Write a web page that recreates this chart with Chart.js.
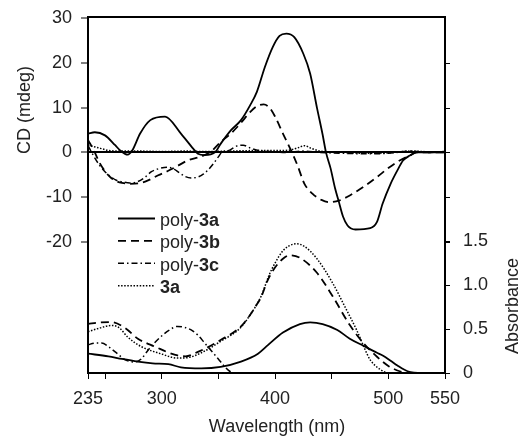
<!DOCTYPE html>
<html>
<head>
<meta charset="utf-8">
<script src="https://cdn.jsdelivr.net/npm/chart.js@4.4.1/dist/chart.umd.min.js"></script>
<style>
  html, body { margin: 0; padding: 0; background: #fff; }
  canvas { display: block; }
</style>
</head>
<body>
<canvas id="cdChart" width="521" height="436"></canvas>
<script>
// CD spectra (mdeg)
const cdPoly3aNm = [235, 241, 250, 259, 264, 270, 274, 281, 290, 303, 317, 328, 332, 338, 347, 352, 361, 370, 378, 384, 391, 398, 404, 410, 417, 425, 431, 437, 442, 445, 449, 453, 456, 460, 464, 471, 484, 490, 495, 502, 508, 513, 519, 525, 550];
const cdPoly3a = [4.2, 4.5, 3.8, 1.6, 0.3, -0.5, 0.4, 4.2, 7.2, 8.0, 4.2, 0.8, -0.3, -0.6, 0, 1.9, 4.9, 7.2, 10.5, 13.5, 19.0, 23.5, 26.0, 26.5, 25.7, 22.0, 17.6, 10.0, 4.0, 0, -3.5, -8.0, -10.7, -14.3, -16.3, -17.2, -16.9, -15.5, -11.4, -7.0, -4.0, -1.8, -0.7, 0, 0];

const cdPoly3bNm = [235, 240, 245, 250, 255, 260, 265, 272, 280, 288, 297, 305, 312, 323, 335, 344, 352, 361, 370, 378, 384, 390, 395, 400, 407, 415, 420, 426, 433, 441, 448, 457, 466, 478, 490, 501, 510, 519, 525, 550];
const cdPoly3b = [2.8, 0.5, -2.2, -4.2, -5.6, -6.4, -6.8, -7.0, -6.9, -6.25, -5.1, -4.2, -3.3, -1.8, -0.9, 0.3, 2.3, 4.2, 6.6, 9.0, 10.3, 10.7, 10.0, 8.0, 4.2, 0, -3.0, -7.0, -9.2, -10.6, -11.1, -10.7, -9.6, -7.7, -5.5, -3.3, -1.8, -0.7, 0, 0];

const cdPoly3cNm = [235, 240, 245, 250, 255, 260, 266, 272, 278, 285, 291, 298, 305, 310, 316, 321, 326, 332, 337, 341, 346, 350, 353, 360, 366, 372, 378, 386, 395, 410, 425, 440, 460, 480, 500, 520, 535, 550];
const cdPoly3c = [1.5, -0.8, -2.8, -4.3, -5.4, -6.2, -6.6, -6.8, -6.6, -5.6, -4.3, -3.6, -3.3, -3.6, -4.6, -5.4, -5.7, -5.5, -4.8, -3.9, -2.4, -1.0, 0, 0.5, 1.4, 1.6, 1.0, 0.4, 0.2, 0, 0.3, 0, -0.2, -0.3, -0.2, 0.3, 0, 0.2];

const cdMono3aNm = [235, 240, 246, 252, 260, 280, 300, 320, 340, 360, 380, 400, 412, 420, 426, 432, 440, 460, 480, 500, 520, 540, 550];
const cdMono3a = [1.6, 1.3, 0.9, 0.5, 0.3, 0.3, 0.2, 0.3, 0.2, 0.3, 0.4, 0.4, 0.5, 1.0, 1.5, 0.9, 0.3, 0, -0.2, -0.1, 0.3, 0.1, 0.2];

// absorption spectra
const absPoly3aNm = [235, 253, 265, 279, 292, 306, 317, 335, 352, 370, 385, 394, 407, 422, 431, 442, 455, 466, 478, 490, 495, 502, 508, 517, 530, 550];
const absPoly3a = [0.22, 0.19, 0.16, 0.13, 0.11, 0.10, 0.065, 0.053, 0.07, 0.13, 0.22, 0.32, 0.46, 0.557, 0.576, 0.557, 0.49, 0.39, 0.31, 0.23, 0.2, 0.14, 0.085, 0.02, 0, 0];

const absPoly3bNm = [235, 245, 255, 268, 279, 294, 312, 321, 332, 352, 370, 378, 383, 388, 393, 400, 407, 413, 422, 437, 451, 466, 478, 490, 500, 510, 518, 550];
const absPoly3b = [0.557, 0.575, 0.58, 0.51, 0.39, 0.30, 0.205, 0.19, 0.24, 0.375, 0.53, 0.66, 0.76, 0.87, 1.04, 1.2, 1.30, 1.34, 1.31, 1.14, 0.87, 0.545, 0.34, 0.185, 0.08, 0.02, 0, 0];

const absPoly3cNm = [235, 241, 247, 253, 259, 268, 276, 282, 288, 299, 307, 314, 320, 326, 332, 338, 344, 350, 355, 360, 365, 550];
const absPoly3c = [0.32, 0.34, 0.34, 0.30, 0.24, 0.15, 0.125, 0.16, 0.26, 0.41, 0.49, 0.53, 0.52, 0.49, 0.43, 0.34, 0.25, 0.16, 0.08, 0.02, 0, 0];

const absMono3aNm = [235, 245, 255, 262, 270, 282, 299, 314, 323, 335, 352, 370, 378, 383, 388, 395, 400, 407, 413, 419, 426, 437, 451, 463, 472, 479, 484, 493, 501, 550];
const absMono3a = [0.47, 0.51, 0.54, 0.52, 0.41, 0.30, 0.22, 0.17, 0.175, 0.23, 0.36, 0.52, 0.66, 0.76, 0.88, 1.12, 1.25, 1.39, 1.45, 1.47, 1.44, 1.30, 1.02, 0.72, 0.49, 0.28, 0.15, 0.04, 0, 0];

const xTicks = [235, 250, 300, 350, 400, 450, 500, 550];
const xTickLabels = [235, 300, 400, 500, 550];
const cdTicks = [-20, -10, 0, 10, 20, 30];
const absTicks = [0, 0.5, 1.0, 1.5];
const legendPrefix = ['poly-', 'poly-', 'poly-', ''];
const legendBold = ['3a', '3b', '3c', '3a'];

const FONT = '"Liberation Sans", Arial, Helvetica, sans-serif';
const INK = '#000';
const TEXT = '#222';

// solid, dashed, dash-dot, dotted
const lineStyles = [
    { dash: [], width: 1.8 },
    { dash: [8, 5], width: 1.8 },
    { dash: [6, 3, 1.5, 3], width: 1.5 },
    { dash: [1.5, 1.6], width: 1.5 }
];

const toPoints = (xs, ys) => xs.map((x, i) => ({ x: x, y: ys[i] }));

function makeSet(xs, ys, styleIdx, axis) {
    const st = lineStyles[styleIdx];
    return {
        data: toPoints(xs, ys),
        yAxisID: axis,
        borderColor: INK,
        borderWidth: st.width,
        borderDash: st.dash,
        pointRadius: 0,
        fill: false,
        cubicInterpolationMode: 'monotone'
    };
}

// drop the label overhang padding so the plot box sits where we want it
function noPad(s) {
    s.paddingTop = 0;
    s.paddingBottom = 0;
    s.paddingLeft = 0;
    s.paddingRight = 0;
}

const decor = {
    id: 'decor',
    afterDraw(chart) {
        const ctx = chart.ctx;
        const a = chart.chartArea;
        const yCd = chart.scales.y;
        ctx.save();
        // top frame line
        ctx.strokeStyle = INK;
        ctx.lineWidth = 2;
        ctx.beginPath();
        ctx.moveTo(a.left - 1, a.top);
        ctx.lineTo(a.right + 1, a.top);
        ctx.stroke();
        // right side ticks at CD values
        ctx.lineWidth = 1;
        cdTicks.slice(0, -1).forEach(v => {
            const y = Math.round(yCd.getPixelForValue(v)) + 0.5;
            ctx.beginPath();
            ctx.moveTo(a.right, y);
            ctx.lineTo(a.right + 5, y);
            ctx.stroke();
        });
        // axis titles
        ctx.fillStyle = TEXT;
        ctx.font = '18px ' + FONT;
        ctx.textAlign = 'center';
        ctx.textBaseline = 'alphabetic';
        ctx.fillText('Wavelength (nm)', 277, 432);
        ctx.save();
        ctx.translate(30, 110);
        ctx.rotate(-Math.PI / 2);
        ctx.fillText('CD (mdeg)', 0, 0);
        ctx.restore();
        ctx.save();
        ctx.translate(518, 306);
        ctx.rotate(-Math.PI / 2);
        ctx.fillText('Absorbance', 0, 0);
        ctx.restore();
        // legend
        ctx.textAlign = 'left';
        legendBold.forEach((b, i) => {
            const st = lineStyles[i];
            const ly = 218.5 + i * 22.4;
            ctx.strokeStyle = INK;
            ctx.lineWidth = st.width;
            ctx.setLineDash(st.dash);
            ctx.beginPath();
            ctx.moveTo(118, ly);
            ctx.lineTo(155, ly);
            ctx.stroke();
            ctx.setLineDash([]);
            let tx = 160;
            ctx.font = '18px ' + FONT;
            ctx.fillText(legendPrefix[i], tx, ly + 7.3);
            tx += ctx.measureText(legendPrefix[i]).width;
            ctx.font = 'bold 18px ' + FONT;
            ctx.fillText(b, tx, ly + 7.3);
        });
        ctx.restore();
    }
};

const ctx = document.getElementById('cdChart').getContext('2d');
const chart = new Chart(ctx, {
    type: 'line',
    data: {
        datasets: [
            makeSet(cdPoly3aNm, cdPoly3a, 0, 'y'),
            makeSet(cdPoly3bNm, cdPoly3b, 1, 'y'),
            makeSet(cdPoly3cNm, cdPoly3c, 2, 'y'),
            makeSet(cdMono3aNm, cdMono3a, 3, 'y'),
            makeSet(absPoly3aNm, absPoly3a, 0, 'y2'),
            makeSet(absPoly3bNm, absPoly3b, 1, 'y2'),
            makeSet(absPoly3cNm, absPoly3c, 2, 'y2'),
            makeSet(absMono3aNm, absMono3a, 3, 'y2')
        ]
    },
    options: {
        responsive: false,
        animation: false,
        devicePixelRatio: 1,
        layout: { padding: { top: 17, left: 0, right: 0, bottom: 0 } },
        plugins: {
            legend: { display: false },
            tooltip: { enabled: false }
        },
        scales: {
            x: {
                type: 'linear',
                position: 'bottom',
                min: 235,
                max: 550,
                afterBuildTicks: s => { s.ticks = xTicks.map(v => ({ value: v })); },
                afterFit: s => { s.height = 63; noPad(s); },
                border: { color: INK, width: 2 },
                grid: { drawOnChartArea: false, tickLength: 6, tickColor: INK, tickWidth: 1 },
                ticks: {
                    autoSkip: false,
                    maxRotation: 0,
                    padding: 9,
                    color: TEXT,
                    font: { family: FONT, size: 18 },
                    callback: v => xTickLabels.includes(v) ? String(v) : ''
                }
            },
            y: {
                position: 'left',
                min: -49.2,
                max: 30.2,
                afterBuildTicks: s => { s.ticks = cdTicks.map(v => ({ value: v })); },
                afterFit: s => { s.width = 88; noPad(s); },
                border: { color: INK, width: 2 },
                grid: {
                    color: c => (c.tick && c.tick.value === 0) ? INK : 'rgba(0,0,0,0)',
                    lineWidth: 2,
                    tickLength: 7,
                    tickColor: INK,
                    tickWidth: 1
                },
                ticks: {
                    padding: 9,
                    color: TEXT,
                    font: { family: FONT, size: 18 },
                    callback: v => String(v)
                }
            },
            y2: {
                position: 'right',
                min: 0,
                max: 4.05,
                afterBuildTicks: s => { s.ticks = absTicks.map(v => ({ value: v })); },
                afterFit: s => { s.width = 76; noPad(s); },
                border: { color: INK, width: 2 },
                grid: { drawOnChartArea: false, tickLength: 5, tickColor: INK, tickWidth: 1 },
                ticks: {
                    padding: 13,
                    color: TEXT,
                    font: { family: FONT, size: 18 },
                    callback: v => v === 0 ? '0' : v.toFixed(1)
                }
            }
        }
    },
    plugins: [decor]
});
</script>
</body>
</html>
